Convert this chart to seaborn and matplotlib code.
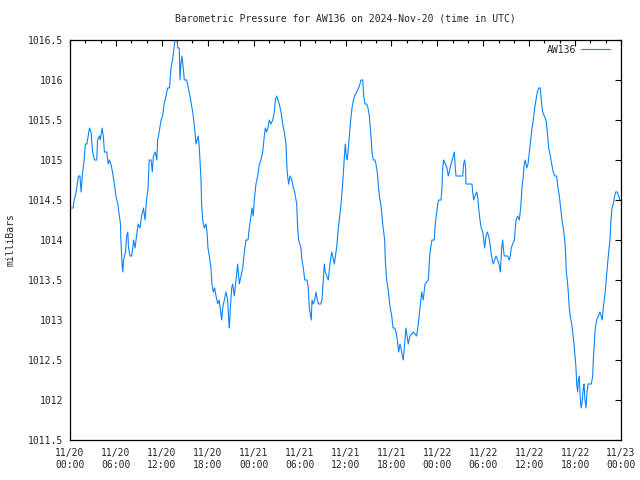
import pandas as pd
import matplotlib
matplotlib.use("Agg")
import matplotlib.pyplot as plt
import matplotlib.dates as mdates
import seaborn as sns

# hours since 2024-11-20 00:00 UTC, pressure in mb
hours = [
    0.0, 0.4, 0.55, 0.8, 1.1, 1.3, 1.45, 1.65, 1.85, 2.0, 2.2, 2.55, 2.75, 2.95, 3.2, 3.5,
    3.6, 3.85, 3.95, 4.2, 4.35, 4.5, 4.8, 5.0, 5.15, 5.35, 5.55, 5.8, 6.0, 6.25, 6.45, 6.6,
    6.65, 6.8, 6.9, 7.0, 7.25, 7.4, 7.55, 7.65, 7.85, 8.05, 8.2, 8.3, 8.5, 8.7, 8.9, 9.15,
    9.35, 9.6, 9.8, 10.0, 10.2, 10.35, 10.6, 10.75, 10.9, 11.15, 11.35, 11.45, 11.65, 11.9,
    12.1, 12.3, 12.55, 12.75, 13.0, 13.2, 13.4, 13.65, 13.75, 14.0, 14.07, 14.28, 14.37,
    14.5, 14.63, 14.8, 14.94, 15.25, 15.46, 15.68, 15.85, 16.03, 16.16, 16.33, 16.46, 16.6,
    16.76, 16.9, 17.03, 17.12, 17.2, 17.34, 17.55, 17.77, 17.9, 18.03, 18.2, 18.42, 18.55,
    18.73, 18.9, 19.08, 19.3, 19.5, 19.69, 19.82, 19.95, 20.16, 20.38, 20.6, 20.74, 20.82,
    20.95, 21.13, 21.26, 21.47, 21.69, 21.91, 22.12, 22.34, 22.57, 22.78, 23.0, 23.26,
    23.43, 23.65, 23.78, 23.95, 24.08, 24.3, 24.53, 24.74, 24.96, 25.18, 25.39, 25.52,
    25.7, 25.87, 26.04, 26.26, 26.49, 26.7, 26.83, 27.01, 27.18, 27.35, 27.57, 27.79, 28.0,
    28.22, 28.35, 28.44, 28.57, 28.75, 29.0, 29.18, 29.36, 29.62, 29.75, 29.88, 30.18,
    30.31, 30.49, 30.67, 30.97, 31.14, 31.27, 31.45, 31.53, 31.62, 31.79, 31.97, 32.14,
    32.31, 32.5, 32.76, 32.93, 33.1, 33.23, 33.36, 33.54, 33.75, 33.97, 34.2, 34.33, 34.54,
    34.76, 34.89, 35.06, 35.19, 35.37, 35.5, 35.63, 35.76, 35.89, 35.97, 36.1, 36.23,
    36.37, 36.5, 36.68, 36.85, 37.02, 37.2, 37.46, 37.72, 37.89, 38.02, 38.25, 38.38,
    38.55, 38.77, 38.94, 39.11, 39.33, 39.46, 39.63, 39.85, 39.98, 40.15, 40.29, 40.42,
    40.6, 40.73, 40.86, 40.99, 41.12, 41.2, 41.38, 41.55, 41.72, 41.85, 42.04, 42.21,
    42.43, 42.6, 42.77, 42.95, 43.12, 43.25, 43.42, 43.55, 43.64, 43.9, 44.2, 44.43, 44.86,
    45.3, 45.51, 45.73, 45.96, 46.16, 46.39, 46.82, 47.0, 47.13, 47.3, 47.6, 47.73, 47.92,
    48.05, 48.18, 48.48, 48.61, 48.7, 48.83, 49.04, 49.26, 49.43, 49.56, 49.78, 49.95,
    50.08, 50.22, 50.35, 50.44, 51.31, 51.44, 51.57, 51.7, 51.74, 52.53, 52.62, 52.75,
    52.92, 53.14, 53.27, 53.4, 53.57, 53.74, 53.93, 54.06, 54.19, 54.36, 54.53, 54.71,
    54.88, 55.01, 55.18, 55.31, 55.49, 55.66, 55.88, 56.06, 56.23, 56.41, 56.54, 56.62,
    56.75, 57.19, 57.4, 57.53, 57.66, 57.85, 58.06, 58.28, 58.5, 58.71, 58.89, 59.06,
    59.23, 59.36, 59.49, 59.68, 59.85, 60.02, 60.2, 60.37, 60.54, 60.72, 60.89, 61.06,
    61.24, 61.45, 61.58, 61.76, 61.98, 62.2, 62.37, 62.55, 62.76, 62.94, 63.15, 63.33,
    63.59, 63.76, 63.94, 64.12, 64.29, 64.46, 64.65, 64.78, 64.85, 64.98, 65.11, 65.24,
    65.37, 65.56, 65.69, 65.86, 65.99, 66.12, 66.21, 66.34, 66.42, 66.55, 66.64, 66.73,
    66.81, 66.94, 67.07, 67.16, 67.29, 67.42, 67.56, 67.69, 68.12, 68.3, 68.38, 68.51,
    68.64, 68.82, 69.03, 69.25, 69.42, 69.55, 69.68, 69.81, 69.94, 70.07, 70.2, 70.39,
    70.56, 70.69, 70.82, 70.99, 71.17, 71.3, 71.51, 71.7, 71.87,
]
pressure = [
    1014.4, 1014.4, 1014.5, 1014.6, 1014.8, 1014.8, 1014.6, 1014.85, 1015.0, 1015.2, 1015.2,
    1015.4, 1015.35, 1015.1, 1015.0, 1015.0, 1015.25, 1015.3, 1015.25, 1015.4, 1015.3,
    1015.1, 1015.1, 1014.95, 1015.0, 1014.95, 1014.85, 1014.7, 1014.55, 1014.45, 1014.3,
    1014.2, 1014.0, 1013.7, 1013.6, 1013.75, 1013.85, 1014.05, 1014.1, 1013.9, 1013.8,
    1013.8, 1013.9, 1014.0, 1013.9, 1014.05, 1014.2, 1014.15, 1014.3, 1014.4, 1014.25,
    1014.5, 1014.65, 1015.0, 1015.0, 1014.85, 1015.05, 1015.1, 1015.0, 1015.25, 1015.35,
    1015.5, 1015.55, 1015.7, 1015.8, 1015.9, 1015.9, 1016.15, 1016.25, 1016.45, 1016.5,
    1016.5, 1016.4, 1016.4, 1016.0, 1016.2, 1016.3, 1016.15, 1016.0, 1016.0, 1015.9,
    1015.8, 1015.7, 1015.6, 1015.5, 1015.35, 1015.2, 1015.25, 1015.3, 1015.15, 1014.9,
    1014.75, 1014.45, 1014.25, 1014.15, 1014.2, 1014.1, 1013.9, 1013.8, 1013.65, 1013.45,
    1013.35, 1013.4, 1013.3, 1013.2, 1013.25, 1013.1, 1013.0, 1013.15, 1013.25, 1013.35,
    1013.25, 1013.0, 1012.9, 1013.15, 1013.4, 1013.45, 1013.3, 1013.5, 1013.7, 1013.45,
    1013.55, 1013.65, 1013.85, 1014.0, 1014.0, 1014.15, 1014.3, 1014.4, 1014.3, 1014.5,
    1014.7, 1014.8, 1014.95, 1015.0, 1015.1, 1015.3, 1015.4, 1015.35, 1015.4, 1015.5,
    1015.45, 1015.5, 1015.6, 1015.75, 1015.8, 1015.75, 1015.7, 1015.6, 1015.45, 1015.35,
    1015.2, 1014.9, 1014.8, 1014.7, 1014.8, 1014.75, 1014.65, 1014.6, 1014.45, 1014.15,
    1014.0, 1013.9, 1013.75, 1013.65, 1013.5, 1013.5, 1013.4, 1013.15, 1013.05, 1013.0,
    1013.25, 1013.2, 1013.25, 1013.35, 1013.25, 1013.2, 1013.2, 1013.25, 1013.5, 1013.7,
    1013.6, 1013.55, 1013.5, 1013.7, 1013.85, 1013.8, 1013.7, 1013.85, 1013.95, 1014.15,
    1014.25, 1014.4, 1014.55, 1014.7, 1014.9, 1015.1, 1015.2, 1015.05, 1015.0, 1015.15,
    1015.3, 1015.5, 1015.65, 1015.75, 1015.8, 1015.85, 1015.9, 1015.95, 1016.0, 1016.0,
    1015.8, 1015.7, 1015.7, 1015.65, 1015.55, 1015.3, 1015.1, 1015.0, 1015.0, 1014.95,
    1014.85, 1014.7, 1014.55, 1014.45, 1014.35, 1014.2, 1014.1, 1014.0, 1013.75, 1013.5,
    1013.4, 1013.25, 1013.15, 1013.05, 1012.9, 1012.9, 1012.85, 1012.75, 1012.6, 1012.7,
    1012.65, 1012.55, 1012.5, 1012.6, 1012.9, 1012.7, 1012.8, 1012.85, 1012.8, 1012.95,
    1013.15, 1013.35, 1013.25, 1013.45, 1013.5, 1013.8, 1013.9, 1014.0, 1014.0, 1014.2,
    1014.35, 1014.45, 1014.5, 1014.5, 1014.65, 1014.9, 1015.0, 1014.95, 1014.9, 1014.8,
    1014.85, 1014.95, 1015.0, 1015.05, 1015.1, 1014.9, 1014.8, 1014.8, 1014.95, 1015.0,
    1014.9, 1014.7, 1014.7, 1014.6, 1014.5, 1014.55, 1014.6, 1014.55, 1014.4, 1014.25,
    1014.15, 1014.1, 1014.0, 1013.9, 1014.05, 1014.1, 1014.05, 1013.95, 1013.85, 1013.75,
    1013.7, 1013.75, 1013.8, 1013.75, 1013.7, 1013.6, 1013.9, 1014.0, 1013.9, 1013.8,
    1013.8, 1013.75, 1013.8, 1013.9, 1013.95, 1014.0, 1014.25, 1014.3, 1014.25, 1014.4,
    1014.65, 1014.8, 1014.95, 1015.0, 1014.9, 1014.95, 1015.1, 1015.25, 1015.4, 1015.5,
    1015.65, 1015.75, 1015.85, 1015.9, 1015.9, 1015.75, 1015.6, 1015.55, 1015.5, 1015.35,
    1015.15, 1015.05, 1014.95, 1014.85, 1014.8, 1014.8, 1014.65, 1014.55, 1014.4, 1014.25,
    1014.15, 1014.0, 1013.8, 1013.6, 1013.5, 1013.35, 1013.15, 1013.05, 1012.95, 1012.85,
    1012.7, 1012.55, 1012.4, 1012.2, 1012.1, 1012.25, 1012.3, 1012.1, 1011.95, 1011.9,
    1012.0, 1012.15, 1012.2, 1012.0, 1011.9, 1012.1, 1012.2, 1012.2, 1012.3, 1012.5,
    1012.7, 1012.9, 1013.0, 1013.05, 1013.1, 1013.05, 1013.0, 1013.15, 1013.25, 1013.35,
    1013.5, 1013.65, 1013.85, 1014.0, 1014.25, 1014.4, 1014.45, 1014.55, 1014.6, 1014.6,
    1014.55, 1014.5,
]
yticks = [1011.5, 1012, 1012.5, 1013, 1013.5, 1014, 1014.5, 1015, 1015.5, 1016, 1016.5]
start = pd.Timestamp("2024-11-20 00:00")
end = pd.Timestamp("2024-11-23 00:00")

df = pd.DataFrame({
    "time": start + pd.to_timedelta(hours, unit="h"),
    "pressure": pressure,
})

sns.set_style("white")
plt.rcParams["font.family"] = ["DejaVu Sans Mono", "DejaVu Sans"]
plt.rcParams["font.size"] = 7

fig = plt.figure(figsize=(6.4, 4.8), dpi=100)
ax = fig.add_axes([70 / 640, 40 / 480, 551 / 640, 400 / 480])

sns.lineplot(data=df, x="time", y="pressure", ax=ax, color="#0a84ff",
             linewidth=0.8, label="AW136")

ax.set_xlim(start, end)
ax.set_ylim(1011.5, 1016.5)
ax.set_yticks(yticks)
ax.set_yticklabels([f"{v:g}" for v in yticks])
ax.xaxis.set_major_locator(mdates.HourLocator(byhour=range(0, 24, 6)))
ax.xaxis.set_minor_locator(mdates.HourLocator(byhour=range(0, 24, 2)))
ax.xaxis.set_major_formatter(mdates.DateFormatter("%m/%d\n%H:%M"))

ax.tick_params(which="both", direction="in", top=True, right=True, color="black")
ax.tick_params(which="major", length=4, width=0.8, labelsize=7, pad=6)
ax.tick_params(which="minor", length=2, width=0.8)
ax.tick_params(axis="y", pad=5)
for s in ax.spines.values():
    s.set_color("black")
    s.set_linewidth(0.9)

ax.set_xlabel("")
ax.set_ylabel("milliBars", fontsize=7, labelpad=9)
ax.set_title("Barometric Pressure for AW136 on 2024-Nov-20 (time in UTC)",
             fontsize=7, pad=13)
ax.legend(loc="upper right", bbox_to_anchor=(0.988, 1.0), frameon=False,
          markerfirst=False, handlelength=2.9, fontsize=7, borderaxespad=0.1,
          handletextpad=0.5)

plt.savefig("out.png", dpi=100)
plt.close()
